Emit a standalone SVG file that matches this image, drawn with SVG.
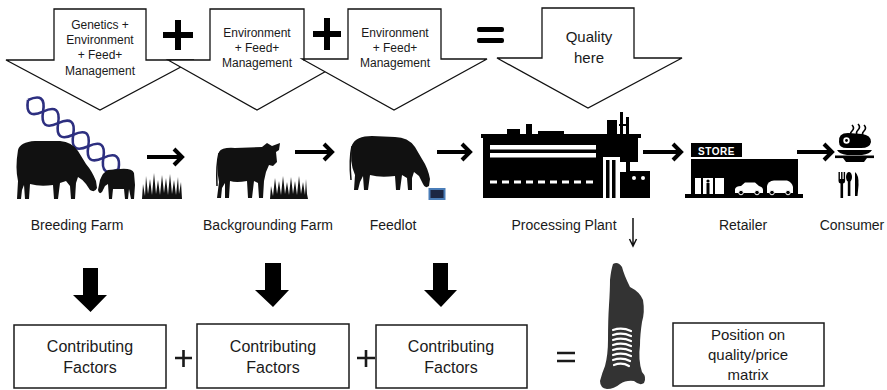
<svg xmlns="http://www.w3.org/2000/svg" width="887" height="390" viewBox="0 0 887 390">
  <defs>
    <pattern id="dnaHatch" width="3" height="3" patternUnits="userSpaceOnUse" patternTransform="rotate(40)">
      <rect width="3" height="3" fill="#ffffff"/>
      <rect width="1.5" height="3" fill="#6f93c8"/>
    </pattern>
  </defs>
  <style>
    .lbl { font-family: "Liberation Sans", Arial, sans-serif; fill: #1a1a1a; text-anchor: middle; }
    .big { stroke: #111; stroke-width: 1.3; fill: #ffffff; stroke-linejoin: miter; }
    .op { stroke: #000; stroke-width: 6; fill: none; }
    .opthin { stroke: #1a1a1a; stroke-width: 2.6; fill: none; }
    .flow { stroke: #000; stroke-width: 4; fill: none; stroke-linejoin: miter; }
    .box { fill: #ffffff; stroke: #1a1a1a; stroke-width: 1.5; }
    .sil { fill: #111; }
    .dnaStrand { fill: none; stroke: #2d2f80; stroke-width: 2.6; }
  </style>

  <!-- big input arrows across the top -->
  <g id="input-breeding">
    <path class="big" d="M54,9 H146 V60 H194 L100,110 L6,60 H54 Z"/>
    <text class="lbl" font-size="12" x="100" y="29">Genetics +</text>
    <text class="lbl" font-size="12" x="100" y="44">Environment</text>
    <text class="lbl" font-size="12" x="100" y="59">+ Feed+</text>
    <text class="lbl" font-size="12" x="100" y="75">Management</text>
  </g>
  <g id="input-backgrounding">
    <path class="big" d="M210,9 H304 V60 H346 L257,110 L168,60 H210 Z"/>
    <text class="lbl" font-size="12" x="257" y="37">Environment</text>
    <text class="lbl" font-size="12" x="257" y="52">+ Feed+</text>
    <text class="lbl" font-size="12" x="257" y="67">Management</text>
  </g>
  <g id="input-feedlot">
    <path class="big" d="M348,9 H441 V59 H487 L394,110 L302,59 H348 Z"/>
    <text class="lbl" font-size="12" x="395" y="37">Environment</text>
    <text class="lbl" font-size="12" x="395" y="52">+ Feed+</text>
    <text class="lbl" font-size="12" x="395" y="67">Management</text>
  </g>
  <g id="quality">
    <path class="big" d="M542,8 H634 V58 H682 L588,108 L497,58 H542 Z"/>
    <text class="lbl" font-size="15" x="589" y="42">Quality</text>
    <text class="lbl" font-size="15" x="589" y="63">here</text>
  </g>

  <!-- operators between the top arrows -->
  <g id="top-operators">
    <path class="op" d="M163,35 H193 M178,20 V50"/>
    <path class="op" d="M313,34 H341 M327,18 V50"/>
    <rect x="477" y="27" width="27" height="5" rx="2" fill="#000"/>
    <rect x="477" y="38" width="27" height="5" rx="2" fill="#000"/>
  </g>

  <!-- breeding farm: DNA, cow, calf, grass -->
  <g id="breeding-farm">
    <g transform="translate(28,100) rotate(37.5)">
      <path fill="url(#dnaHatch)" d="M0,0 Q9.5,-18 19,0 T38,0 T57,0 T76,0 T95,0 T114,0 Q104.5,18 95,0 T76,0 T57,0 T38,0 T19,0 T0,0 Z"/>
      <path class="dnaStrand" d="M0,0 Q9.5,-18 19,0 T38,0 T57,0 T76,0 T95,0 T114,0"/>
      <path class="dnaStrand" stroke="#4a56b0" d="M0,0 Q9.5,18 19,0 T38,0 T57,0 T76,0 T95,0 T114,0"/>
    </g>
    <path class="sil" d="M18,150 Q20,142 35,141 L60,141 Q72,142 78,151 L86,164 Q92,171 96,181 L97,188 Q95,193 90,190 L86,184 Q82,179 78,177 L76,183 L75,199 L71,199 L70,186 L66,181 L60,183 L58,199 L54,199 L53,185 Q40,187 30,184 L29,199 L25,199 L24,185 L22,190 L21,199 L17,199 L18,181 Q15,168 18,150 Z"/>
    <path class="sil" d="M134,173 Q132,168 120,169 L108,170 Q103,172 100,180 L98,190 Q99,195 102,192 L105,186 L108,184 L109,199 L112,199 L113,189 L124,189 L125,199 L128,199 L129,189 L131,199 L134,199 L135,185 Z"/>
    <path class="sil" d="M142,199 L143,184 L145,196 L146,176 L148,194 L150,179 L152,195 L154,173 L156,194 L158,180 L160,195 L162,175 L164,193 L166,178 L168,195 L170,174 L172,194 L174,180 L176,195 L178,177 L179,194 L181,182 L182,199 Z"/>
    <text class="lbl" font-size="14" x="77" y="230">Breeding Farm</text>
  </g>

  <!-- backgrounding farm: standing cow and grass -->
  <g id="backgrounding-farm">
    <path class="sil" d="M219,152 Q222,147 235,148 L262,147 L267,143 L272,146 L280,143 L279,150 L276,152 L277,162 L273,166 L269,165 L266,172 L264,181 L263,198 L259,198 L258,183 L254,181 L252,198 L248,198 L247,181 Q236,183 230,181 L229,198 L225,198 L225,183 L222,188 L221,198 L217,198 L219,182 Q216,168 219,152 Z"/>
    <path d="M219,153 Q216,165 217,186" stroke="#111" stroke-width="1.5" fill="none"/>
    <path class="sil" d="M270,199 L271,186 L273,196 L275,178 L277,194 L279,181 L281,195 L283,176 L285,194 L287,182 L289,195 L291,177 L293,194 L295,181 L297,195 L299,176 L301,194 L303,182 L305,195 L306,179 L307,194 L308,199 Z"/>
    <text class="lbl" font-size="14" x="268" y="230">Backgrounding Farm</text>
  </g>

  <!-- feedlot: grazing cow and feed bunk -->
  <g id="feedlot">
    <path class="sil" d="M352,145 Q356,136 372,136 L395,137 Q408,137 415,147 L422,159 Q428,168 430,179 L429,186 Q425,189 423,184 L419,176 L414,172 L412,178 L412,190 L408,190 L407,178 L402,175 L400,190 L396,190 L395,176 Q380,178 370,175 L368,190 L364,190 L363,176 L360,182 L358,190 L354,190 L355,175 Q349,162 352,145 Z"/>
    <path d="M352,146 Q349,160 351,180" stroke="#111" stroke-width="1.5" fill="none"/>
    <rect x="429.5" y="189" width="15" height="10" fill="#1c2744" stroke="#4a7db8" stroke-width="2"/>
    <text class="lbl" font-size="14" x="393" y="230">Feedlot</text>
  </g>

  <!-- processing plant -->
  <g id="processing-plant">
    <rect x="507" y="129" width="13" height="7" fill="#000"/>
    <rect x="526" y="124" width="6" height="12" fill="#000"/>
    <rect x="538" y="131" width="26" height="5" fill="#000"/>
    <rect x="607" y="120" width="10" height="16" fill="#000"/>
    <rect x="620" y="112" width="3" height="24" fill="#000"/>
    <rect x="626" y="117" width="3" height="19" fill="#000"/>
    <rect x="619" y="124" width="10" height="2" fill="#000"/>
    <rect x="481" y="134" width="160" height="4" fill="#000"/>
    <rect x="483" y="136" width="155" height="62" fill="#000"/>
    <rect x="490" y="145" width="106" height="4.5" fill="#fff"/>
    <rect x="490" y="153" width="106" height="4.5" fill="#fff"/>
    <line x1="490" y1="182" x2="598" y2="182" stroke="#fff" stroke-width="3" stroke-dasharray="7 5"/>
    <rect x="603" y="157" width="17" height="41" fill="#fff"/>
    <rect x="606" y="160" width="3.5" height="38" fill="#000"/>
    <rect x="612" y="160" width="3.5" height="38" fill="#000"/>
    <rect x="620" y="162" width="20" height="10" fill="#fff"/>
    <rect x="626" y="160" width="4" height="12" fill="#000"/>
    <rect x="627" y="171" width="23" height="27" fill="#000"/>
    <rect x="620" y="176" width="6" height="1.6" fill="#000"/>
    <rect x="620" y="180" width="6" height="1.6" fill="#000"/>
    <circle cx="634" cy="178" r="2" fill="#fff"/>
    <circle cx="643" cy="178" r="2" fill="#fff"/>
    <text class="lbl" font-size="14" x="564" y="230">Processing Plant</text>
  </g>

  <!-- retailer -->
  <g id="retailer">
    <rect x="691" y="143" width="51" height="14" fill="#000"/>
    <text x="716.5" y="155" font-family="Liberation Sans, Arial, sans-serif" font-size="10" font-weight="bold" fill="#fff" text-anchor="middle" letter-spacing="0.5">STORE</text>
    <rect x="691" y="159" width="107" height="37" fill="#000"/>
    <rect x="685" y="194" width="118" height="4" fill="#000"/>
    <rect x="695" y="178" width="6" height="16" fill="#fff"/>
    <rect x="703" y="178" width="10" height="16" fill="#fff"/>
    <rect x="715" y="178" width="9" height="16" fill="#fff"/>
    <circle cx="708" cy="181" r="1.6" fill="#000"/>
    <rect x="706.5" y="183" width="3" height="11" fill="#000"/>
    <path fill="#fff" d="M735,193 L735,189 Q736,186 741,186 L745,182.5 L755,182.5 L759,186 Q763,187 763,190 L763,193 Z"/>
    <circle cx="741" cy="192.5" r="2.3" fill="#000" stroke="#fff" stroke-width="1"/>
    <circle cx="757" cy="192.5" r="2.3" fill="#000" stroke="#fff" stroke-width="1"/>
    <path fill="#fff" d="M767,193 L767,186 Q768,181 774,180.5 L787,180.5 Q792,182 793,187 L793,193 Z"/>
    <circle cx="772" cy="192.5" r="2.3" fill="#000" stroke="#fff" stroke-width="1"/>
    <circle cx="788" cy="192.5" r="2.3" fill="#000" stroke="#fff" stroke-width="1"/>
    <text class="lbl" font-size="14" x="743" y="230">Retailer</text>
  </g>

  <!-- consumer: plated steak and cutlery -->
  <g id="consumer">
    <path d="M852,137 q-3,-3 0,-6 q3,-3 0,-6 M858,136 q-3,-3 0,-6 q3,-3 0,-6 M864,137 q-3,-3 0,-6 q3,-3 0,-6" stroke="#000" stroke-width="1.6" fill="none"/>
    <path fill="#000" d="M839,142 Q838,133 848,133 L862,134 Q871,135 871,142 Q870,148 861,148 L847,148 Q839,148 839,142 Z"/>
    <circle cx="846.5" cy="140.5" r="3.2" fill="#fff"/>
    <circle cx="846.5" cy="140.5" r="1.4" fill="#000"/>
    <path fill="#000" d="M837,150 H872 Q870,154 862,155 H847 Q839,154 837,150 Z"/>
    <rect x="835" y="155.5" width="39" height="2.6" fill="#000"/>
    <path fill="#000" d="M843,158 H867 L864,162 H846 Z"/>
    <path fill="#000" d="M838.5,172 h1.4 v7 h1.2 v-7 h1.4 v7 h1.2 v-7 h1.4 v9 q0,2 -2,2.5 v14.5 h-2.6 v-14.5 q-2,-0.5 -2,-2.5 Z"/>
    <ellipse cx="849" cy="177" rx="3" ry="5" fill="#000"/>
    <rect x="847.8" y="180" width="2.6" height="16" fill="#000"/>
    <path fill="#000" d="M855,172 Q859,175 858.5,185 L857.5,196 L855,196 Z"/>
    <text class="lbl" font-size="14" x="852" y="230">Consumer</text>
  </g>

  <!-- flow arrows along the chain and the drop to the carcass -->
  <g id="connectors">
    <path class="flow" d="M147,157 H181 M174,149 L182,157 L174,165"/>
    <path class="flow" d="M295,152 H331 M324,144 L332,152 L324,160"/>
    <path class="flow" d="M437,152 H469 M462,144 L470,152 L462,160"/>
    <path class="flow" d="M643,152 H680 M673,144 L681,152 L673,160"/>
    <path class="flow" d="M797,152 H831 M824,144 L832,152 L824,160"/>
    <path d="M633,218 V245 M629.5,239 L633,246 L636.5,239" stroke="#111" stroke-width="1.5" fill="none"/>
    <path fill="#000" d="M83,268 H98 V295 H107 L90.5,312 L73,295 H83 Z"/>
    <path fill="#000" d="M265,263 H281 V290 H289 L273,307 L255,290 H265 Z"/>
    <path fill="#000" d="M433,263 H448 V290 H457 L441,307 L424,290 H433 Z"/>
  </g>

  <!-- contributing factor boxes -->
  <g id="factors-breeding">
    <rect class="box" x="14" y="325" width="152" height="63"/>
    <text class="lbl" font-size="16" x="90" y="352">Contributing</text>
    <text class="lbl" font-size="16" x="90" y="373">Factors</text>
  </g>
  <g id="factors-backgrounding">
    <rect class="box" x="197" y="324" width="152" height="64"/>
    <text class="lbl" font-size="16" x="273" y="352">Contributing</text>
    <text class="lbl" font-size="16" x="273" y="373">Factors</text>
  </g>
  <g id="factors-feedlot">
    <rect class="box" x="376" y="325" width="151" height="63"/>
    <text class="lbl" font-size="16" x="451" y="352">Contributing</text>
    <text class="lbl" font-size="16" x="451" y="373">Factors</text>
  </g>

  <!-- operators between the boxes -->
  <g id="bottom-operators">
    <path class="opthin" d="M175,358 H192 M183.5,350 V367"/>
    <path class="opthin" d="M357,358 H375 M366,350 V367"/>
    <path class="opthin" d="M557,353 H575 M557,361 H575"/>
  </g>

  <!-- carcass -->
  <g id="carcass">
    <path fill="#333" d="M613,264 Q618,261 622,267 Q624,275 630,287 Q640,292 643,300 Q645,312 642,322 Q640,335 640,345 Q638,360 642,372 Q647,377 644,383 Q640,386 634,381 Q626,380 620,384 Q614,389 607,389 Q600,388 600,381 Q602,373 605,366 Q608,355 608,340 Q608,320 609,305 Q610,290 610,280 Q611,270 613,264 Z"/>
    <path d="M613,330 Q622,327 631,331 M613,335 Q622,332 631,336 M613,340 Q622,337 631,341 M613,345 Q622,342 631,346 M613,350 Q622,347 631,351 M613,355 Q622,352 631,356 M613,360 Q622,357 630,361 M614,365 Q622,362 629,366" stroke="#fff" stroke-width="2.2" fill="none" stroke-linecap="round"/>
  </g>

  <g id="quality-position">
    <rect class="box" x="673" y="323" width="151" height="63"/>
    <text class="lbl" font-size="15" x="748" y="340">Position on</text>
    <text class="lbl" font-size="15" x="748" y="360">quality/price</text>
    <text class="lbl" font-size="15" x="748" y="380">matrix</text>
  </g>
</svg>
